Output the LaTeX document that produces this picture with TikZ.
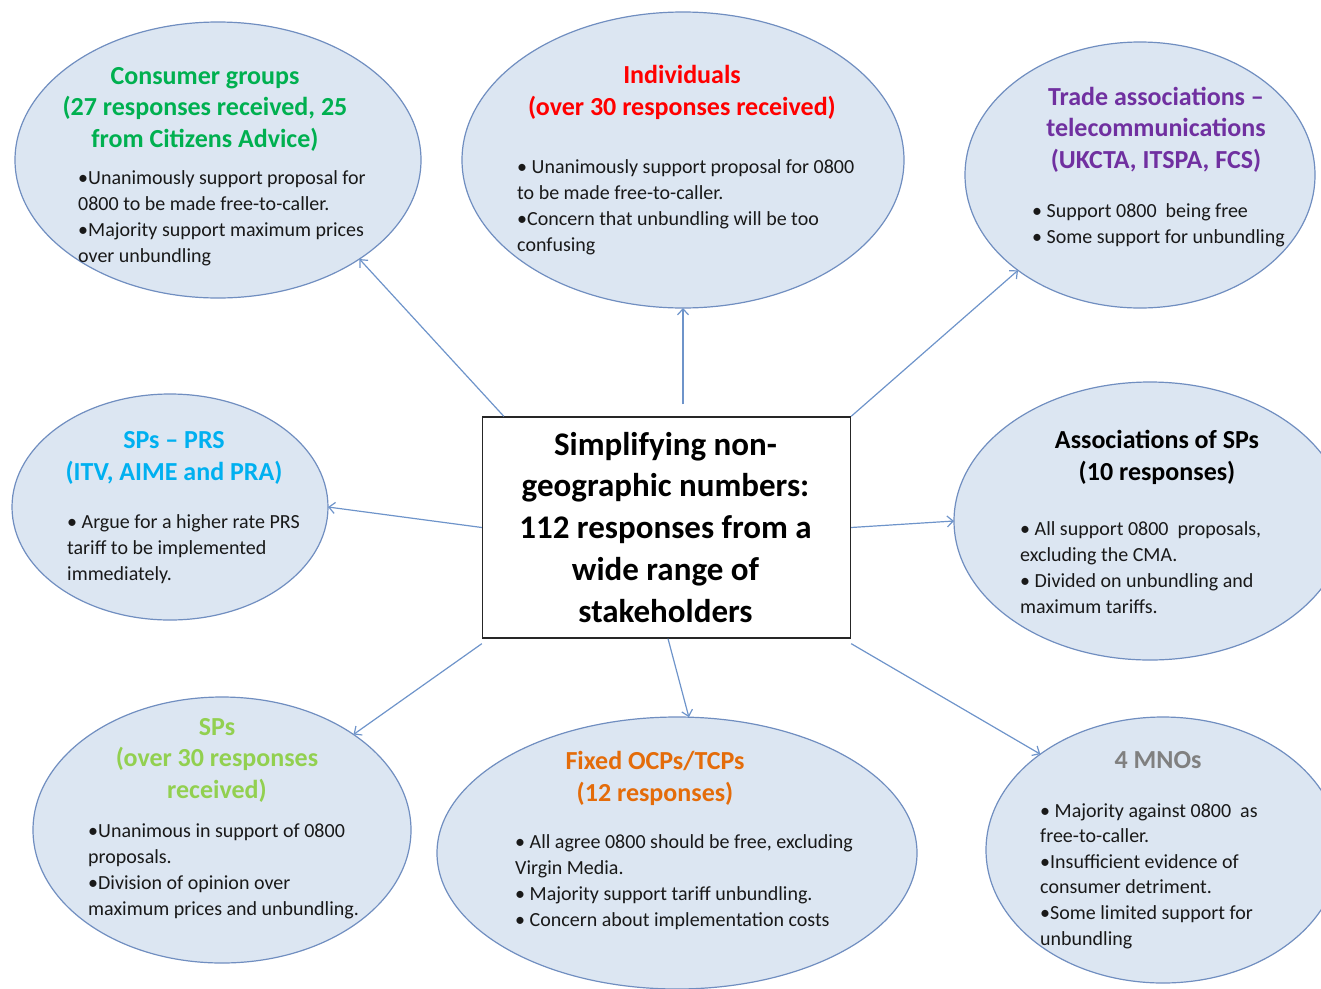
\documentclass[tikz,border=0pt]{standalone}
\usepackage{fontspec}
\setmainfont{Carlito}
\usetikzlibrary{shapes.geometric,arrows.meta,calc}
\definecolor{ellfill}{RGB}{220,230,242}
\definecolor{elldraw}{RGB}{112,142,192}
\definecolor{arrowc}{RGB}{110,148,202}
\definecolor{bodyc}{RGB}{25,25,25}
\definecolor{cgreen}{RGB}{0,176,80}
\definecolor{cred}{RGB}{255,0,0}
\definecolor{cpurple}{RGB}{112,48,160}
\definecolor{ccyan}{RGB}{0,176,240}
\definecolor{clgreen}{RGB}{146,208,80}
\definecolor{corange}{RGB}{228,108,10}
\definecolor{cgray}{RGB}{128,128,128}
\begin{document}
\begin{tikzpicture}[x=1pt,y=-1pt,
  bubble/.style={ellipse,draw=elldraw,fill=ellfill,line width=1.2pt,inner sep=0pt,outer sep=0pt},
  head/.style={font=\bfseries\fontsize{26}{31.5}\selectfont,align=center,anchor=base,inner sep=0pt},
  body/.style={font=\fontsize{20}{25.8}\selectfont,align=left,anchor=base west,inner sep=0pt,text=bodyc},
  conn/.style={draw=arrowc,line width=1.2pt,-{Straight Barb[length=6pt,width=11pt]}}]
\useasboundingbox (0,0) rectangle (1321,988);
\clip (0,0) rectangle (1321,988);

% ellipses
\node[bubble,minimum width=406pt,minimum height=276pt] (cg) at (218,160) {};
\node[bubble,minimum width=442pt,minimum height=296pt] (ind) at (683,160) {};
\node[bubble,minimum width=350pt,minimum height=266pt] (tra) at (1140,175) {};
\node[bubble,minimum width=316pt,minimum height=226pt] (prs) at (170,507) {};
\node[bubble,minimum width=392pt,minimum height=278pt] (asp) at (1150,521) {};
\node[bubble,minimum width=378pt,minimum height=266pt] (sps) at (222,830) {};
\node[bubble,minimum width=480pt,minimum height=272pt] (fix) at (677,853) {};
\node[bubble,minimum width=354pt,minimum height=266pt] (mno) at (1163,850) {};

% central box
\node[draw=black!85,line width=1.3pt,fill=white,minimum width=368pt,minimum height=221pt,inner sep=0pt] (box) at (666.5,527.5) {};
\node[font=\bfseries\fontsize{33}{41.75}\selectfont,align=center,anchor=base,inner sep=0pt] (boxt) at (665.5,622)
  {Simplifying non-\\geographic numbers:\\112 responses from a\\wide range of\\stakeholders};

% headings (coordinates give the baseline of the last line)
\node[head,text=cgreen] (cgh) at (205,147) {Consumer groups\\(27 responses received, 25\\from Citizens Advice)};
\node[head,text=cred] (indh) at (682,115) {Individuals\\(over 30 responses received)};
\node[head,text=cpurple] (trah) at (1156,168) {Trade associations --\\telecommunications\\(UKCTA, ITSPA, FCS)};
\node[head,text=ccyan] (prsh) at (174,480) {SPs -- PRS\\(ITV, AIME and PRA)};
\node[head,text=black] (asph) at (1157,480) {Associations of SPs\\(10 responses)};
\node[head,text=clgreen] (spsh) at (217,798) {SPs\\(over 30 responses\\received)};
\node[head,text=corange] (fixh) at (655,801) {Fixed OCPs/TCPs\\(12 responses)};
\node[head,text=cgray] (mnoh) at (1158,768) {4 MNOs};

% bodies (coordinates give the baseline of the last line)
\node[body] (cgb) at (78,262) {•Unanimously support proposal for\\0800 to be made free-to-caller.\\•Majority support maximum prices\\over unbundling};
\node[body] (indb) at (517,251) {• Unanimously support proposal for 0800\\to be made free-to-caller.\\•Concern that unbundling will be too\\confusing};
\node[body] (trab) at (1032,243) {• Support 0800\ \ being free\\• Some support for unbundling};
\node[body] (prsb) at (67,580) {• Argue for a higher rate PRS\\tariff to be implemented\\immediately.};
\node[body] (aspb) at (1020,613) {• All support 0800\ \ proposals,\\excluding the CMA.\\• Divided on unbundling and\\maximum tariffs.};
\node[body] (spsb) at (88,915) {•Unanimous in support of 0800\\proposals.\\•Division of opinion over\\maximum prices and unbundling.};
\node[body] (fixb) at (515,926) {• All agree 0800 should be free, excluding\\Virgin Media.\\• Majority support tariff unbundling.\\• Concern about implementation costs};
\node[body,font=\fontsize{20}{25.6}\selectfont] (mnob) at (1040,945) {• Majority against 0800\ \ as\\free-to-caller.\\•Insufficient evidence of\\consumer detriment.\\•Some limited support for\\unbundling};

% connectors
\draw[conn] ($(box.north west)+(22,0)$) -- (cg.-35);
\draw[conn] ($(box.north)+(16.5,-12)$) -- (ind.south);
\draw[conn] (box.north east) -- (tra.218);
\draw[conn] (box.west) -- (prs.east);
\draw[conn] (box.east) -- (asp.west);
\draw[conn] ($(box.south west)+(0,5)$) -- (sps.36);
\draw[conn] ($(box.south)+(1.5,0)$) -- (fix.85);
\draw[conn] ($(box.south east)+(0,5)$) -- (mno.142);
\end{tikzpicture}
\end{document}
